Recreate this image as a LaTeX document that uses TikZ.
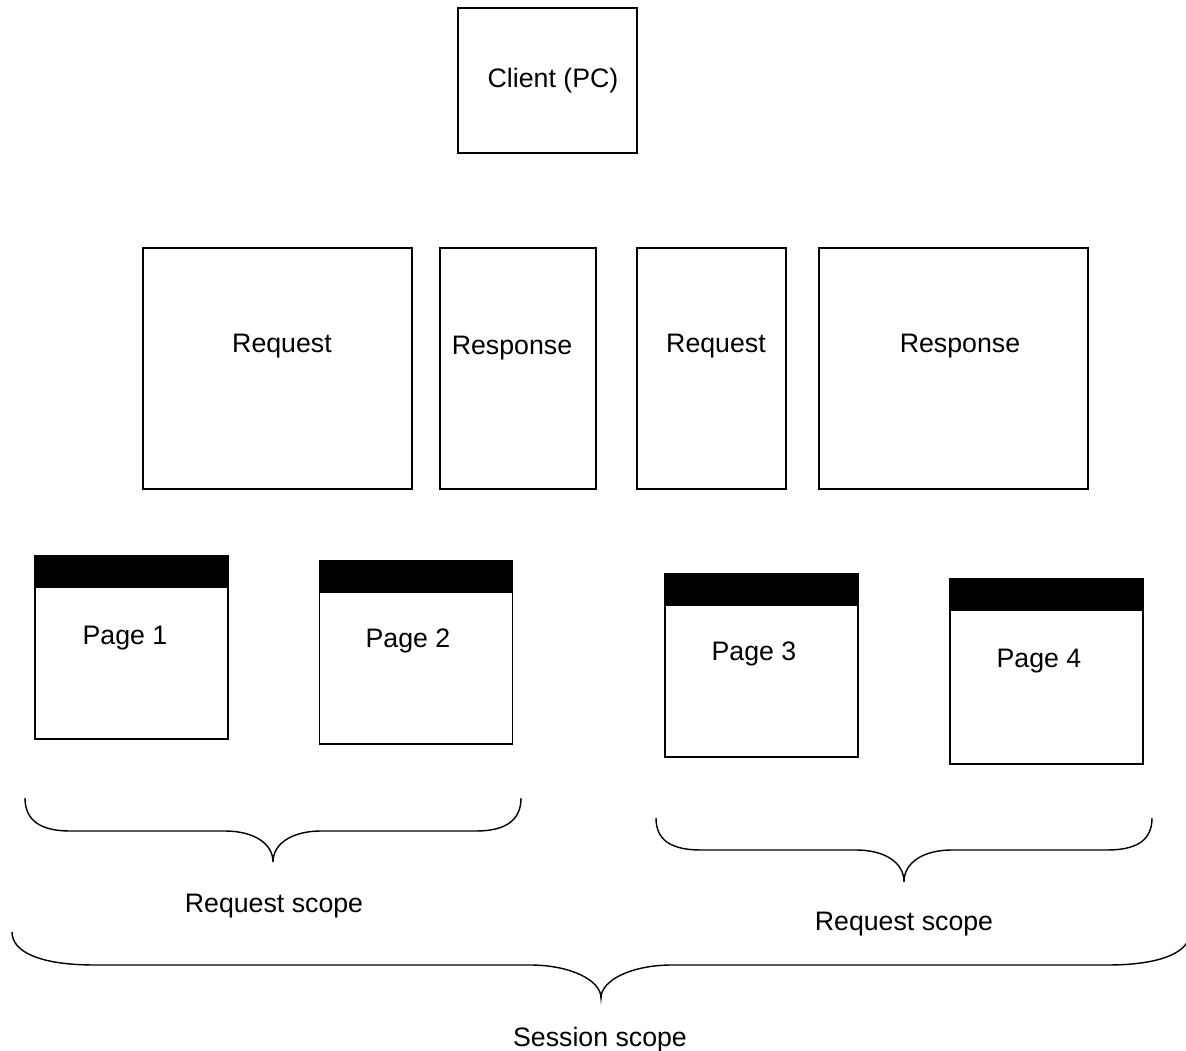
\documentclass[tikz,border=0pt]{standalone}
\usepackage{fontspec}
\setmainfont{Liberation Sans}
\usepackage{xcolor}

\tikzset{
  box/.style={draw, line width=1pt, inner sep=0pt},
  pagebox/.style={box, minimum width=4.825cm, minimum height=4.575cm,
    path picture={\fill[black] (path picture bounding box.north west) rectangle ([yshift=-0.8cm]path picture bounding box.north east);}},
  lbl/.style={font=\fontsize{19}{23}\selectfont, inner sep=0pt, anchor=base},
  scopebrace/.style={line width=1pt}
}

\begin{document}
\begin{tikzpicture}[x=0.025cm, y=-0.025cm]
  \useasboundingbox (0,0) rectangle (1186,1051);
  % client
  \node[box, minimum width=4.475cm, minimum height=3.625cm] (client) at (547.5,80.5) {};
  \node[lbl] (clientTxt) at (553,88) {Client (PC)};
  % request / response
  \node[box, minimum width=6.725cm, minimum height=6.025cm] (req1) at (277.5,368.5) {};
  \node[box, minimum width=3.9cm, minimum height=6.025cm] (resp1) at (518,368.5) {};
  \node[box, minimum width=3.725cm, minimum height=6.025cm] (req2) at (711.5,368.5) {};
  \node[box, minimum width=6.725cm, minimum height=6.025cm] (resp2) at (953.5,368.5) {};
  \node[lbl] (req1Txt) at (282,352) {Request};
  \node[lbl] (resp1Txt) at (512,355) {Response};
  \node[lbl] (req2Txt) at (716,352) {Request};
  \node[lbl] (resp2Txt) at (960,352) {Response};
  % pages
  \node[pagebox] (page1) at (131.5,647.5) {};
  \node[pagebox] (page2) at (416,652.5) {};
  \node[pagebox] (page3) at (761.5,665.5) {};
  \node[pagebox, minimum height=4.625cm] (page4) at (1046.5,671.5) {};
  \node[lbl] (page1Txt) at (125,644) {Page 1};
  \node[lbl] (page2Txt) at (408,647) {Page 2};
  \node[lbl] (page3Txt) at (754,660) {Page 3};
  \node[lbl] (page4Txt) at (1039,667) {Page 4};
  % scopes
  \draw[scopebrace] (25,798) .. controls (25,820) and (40,831) .. (70,831) -- (225,831)
    .. controls (253,831) and (273,843) .. (273,862) .. controls (273,843) and (293,831) .. (321,831)
    -- (476,831) .. controls (506,831) and (521,820) .. (521,798);
  \draw[scopebrace] (656,818) .. controls (656,840) and (671,850) .. (701,850) -- (856,850)
    .. controls (884,850) and (904,862) .. (904,882) .. controls (904,862) and (924,850) .. (952,850)
    -- (1107,850) .. controls (1137,850) and (1152,840) .. (1152,818);
  \draw[scopebrace] (12,932) .. controls (12,952) and (40,965) .. (95,965) -- (530,965)
    .. controls (570,965) and (601,980) .. (601,998) .. controls (601,980) and (632,965) .. (672,965)
    -- (1107,965) .. controls (1162,965) and (1190,952) .. (1190,932);
  \node[lbl] (scope1Txt) at (274,912) {Request scope};
  \node[lbl] (scope2Txt) at (904,930) {Request scope};
  \node[lbl] (sessionTxt) at (600,1046) {Session scope};
\end{tikzpicture}
\end{document}
